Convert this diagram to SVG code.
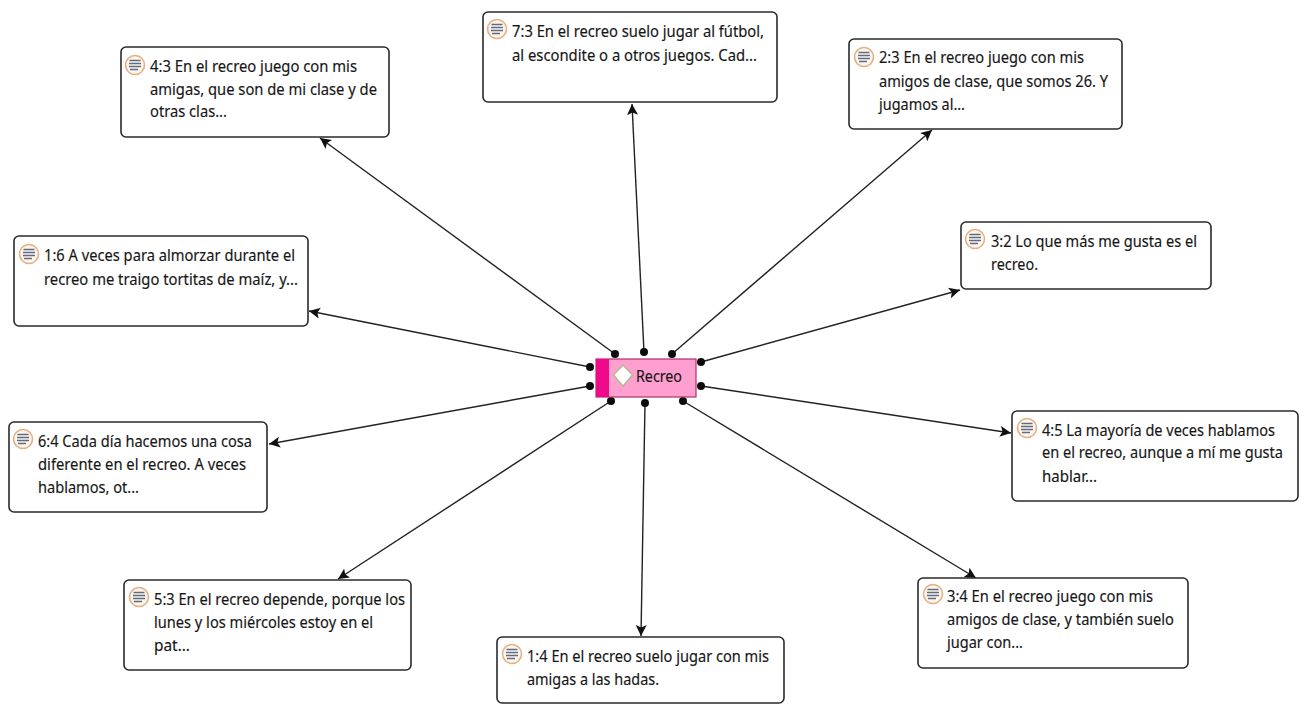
<svg xmlns="http://www.w3.org/2000/svg" xmlns:xlink="http://www.w3.org/1999/xlink" width="1306" height="704" viewBox="0 0 1306 704">
<style>
text{font-family:"Noto Sans","Open Sans","Liberation Sans",sans-serif;font-size:15.5px;fill:#161616;stroke:#161616;stroke-width:.15}
.b{fill:#fff;stroke:#2a2a2a;stroke-width:1.6}
.c line{stroke:#222;stroke-width:1.4;marker-end:url(#a)}
.c circle{fill:#0c0c0c}
</style>
<defs>
<marker id="a" markerUnits="userSpaceOnUse" markerWidth="13" markerHeight="12" refX="11" refY="5.500" orient="auto"><path d="M0 0L11 5.500L0 11L2.500 5.500z" fill="#111"/></marker>
<g id="d"><circle cx="0" cy="0" r="9.500" fill="#fdf5ee" stroke="#e3b184" stroke-width="1.600"/><path d="M-5.500-4.500H5.500M-6-1.500H6M-6 1.500H6M-5 4.500H3" stroke="#5f6b80" stroke-width="1.400" fill="none"/></g>
</defs>
<rect width="1306" height="704" fill="#fff"/>
<g id="connectors" class="c">
<line x1="615" y1="354" x2="320" y2="138"/><circle cx="615" cy="354" r="4"/>
<line x1="644" y1="352" x2="632" y2="104"/><circle cx="644" cy="352" r="4"/>
<line x1="672" y1="354" x2="932" y2="130"/><circle cx="672" cy="354" r="4"/>
<line x1="701" y1="362" x2="960" y2="290"/><circle cx="701" cy="362" r="4"/>
<line x1="701" y1="386" x2="1011" y2="433"/><circle cx="701" cy="386" r="4"/>
<line x1="683" y1="401" x2="976" y2="578"/><circle cx="683" cy="401" r="4"/>
<line x1="645" y1="403" x2="641" y2="636"/><circle cx="645" cy="403" r="4"/>
<line x1="611" y1="401" x2="338" y2="579"/><circle cx="611" cy="401" r="4"/>
<line x1="590" y1="386" x2="269" y2="444"/><circle cx="590" cy="386" r="4"/>
<line x1="590" y1="367" x2="309" y2="311"/><circle cx="590" cy="367" r="4"/>
</g>
<g id="recreo">
<rect x="596" y="359" width="100" height="38" fill="#ff9fd0" stroke="#b0306f" stroke-width="1.200"/>
<rect x="596" y="359" width="13" height="38" fill="#ee0a8a"/>
<path d="M623 365L632.500 375L623 386L613.500 375z" fill="#fff" stroke="#a9b98a" stroke-width="1.300"/>
<text x="636" y="382" textLength="46" lengthAdjust="spacingAndGlyphs">Recreo</text>
</g>
<g id="n43"><rect class="b" x="121" y="47" width="268" height="90" rx="5"/><use xlink:href="#d" href="#d" x="135" y="65"/><text x="150" y="72" textLength="207" lengthAdjust="spacingAndGlyphs">4:3 En el recreo juego con mis</text><text x="150" y="95" textLength="227" lengthAdjust="spacingAndGlyphs">amigas, que son de mi clase y de</text><text x="150" y="117" textLength="77" lengthAdjust="spacingAndGlyphs">otras clas...</text></g>
<g id="n73"><rect class="b" x="483" y="12" width="294" height="90" rx="5"/><use xlink:href="#d" href="#d" x="497" y="29"/><text x="512" y="37" textLength="252" lengthAdjust="spacingAndGlyphs">7:3 En el recreo suelo jugar al fútbol,</text><text x="512" y="61" textLength="245" lengthAdjust="spacingAndGlyphs">al escondite o a otros juegos. Cad...</text></g>
<g id="n23"><rect class="b" x="849" y="39" width="273" height="90" rx="5"/><use xlink:href="#d" href="#d" x="864" y="57"/><text x="879" y="63" textLength="205" lengthAdjust="spacingAndGlyphs">2:3 En el recreo juego con mis</text><text x="879" y="87" textLength="229" lengthAdjust="spacingAndGlyphs">amigos de clase, que somos 26. Y</text><text x="879" y="110" textLength="86" lengthAdjust="spacingAndGlyphs">jugamos al...</text></g>
<g id="n32"><rect class="b" x="961" y="222" width="250" height="67" rx="5"/><use xlink:href="#d" href="#d" x="975" y="239"/><text x="991" y="247" textLength="206" lengthAdjust="spacingAndGlyphs">3:2 Lo que más me gusta es el</text><text x="991" y="270" textLength="47" lengthAdjust="spacingAndGlyphs">recreo.</text></g>
<g id="n16"><rect class="b" x="14" y="236" width="294" height="90" rx="5"/><use xlink:href="#d" href="#d" x="29" y="254"/><text x="44" y="261" textLength="251" lengthAdjust="spacingAndGlyphs">1:6 A veces para almorzar durante el</text><text x="44" y="285" textLength="254" lengthAdjust="spacingAndGlyphs">recreo me traigo tortitas de maíz, y...</text></g>
<g id="n45"><rect class="b" x="1012" y="411" width="286" height="90" rx="5"/><use xlink:href="#d" href="#d" x="1027" y="428"/><text x="1042" y="436" textLength="233" lengthAdjust="spacingAndGlyphs">4:5 La mayoría de veces hablamos</text><text x="1042" y="458" textLength="241" lengthAdjust="spacingAndGlyphs">en el recreo, aunque a mí me gusta</text><text x="1042" y="482" textLength="55" lengthAdjust="spacingAndGlyphs">hablar...</text></g>
<g id="n64"><rect class="b" x="9" y="422" width="258" height="90" rx="5"/><use xlink:href="#d" href="#d" x="23" y="439"/><text x="38" y="447" textLength="214" lengthAdjust="spacingAndGlyphs">6:4 Cada día hacemos una cosa</text><text x="38" y="470" textLength="208" lengthAdjust="spacingAndGlyphs">diferente en el recreo. A veces</text><text x="38" y="493" textLength="101" lengthAdjust="spacingAndGlyphs">hablamos, ot...</text></g>
<g id="n53"><rect class="b" x="124" y="580" width="287" height="90" rx="5"/><use xlink:href="#d" href="#d" x="139" y="597"/><text x="154" y="605" textLength="251" lengthAdjust="spacingAndGlyphs">5:3 En el recreo depende, porque los</text><text x="154" y="628" textLength="219" lengthAdjust="spacingAndGlyphs">lunes y los miércoles estoy en el</text><text x="154" y="651" textLength="36" lengthAdjust="spacingAndGlyphs">pat...</text></g>
<g id="n14"><rect class="b" x="497" y="637" width="287" height="66" rx="5"/><use xlink:href="#d" href="#d" x="512" y="654"/><text x="527" y="662" textLength="242" lengthAdjust="spacingAndGlyphs">1:4 En el recreo suelo jugar con mis</text><text x="527" y="685" textLength="132" lengthAdjust="spacingAndGlyphs">amigas a las hadas.</text></g>
<g id="n34"><rect class="b" x="918" y="578" width="270" height="90" rx="5"/><use xlink:href="#d" href="#d" x="933" y="594"/><text x="947" y="602" textLength="206" lengthAdjust="spacingAndGlyphs">3:4 En el recreo juego con mis</text><text x="947" y="625" textLength="227" lengthAdjust="spacingAndGlyphs">amigos de clase, y también suelo</text><text x="947" y="648" textLength="76" lengthAdjust="spacingAndGlyphs">jugar con...</text></g>
</svg>
